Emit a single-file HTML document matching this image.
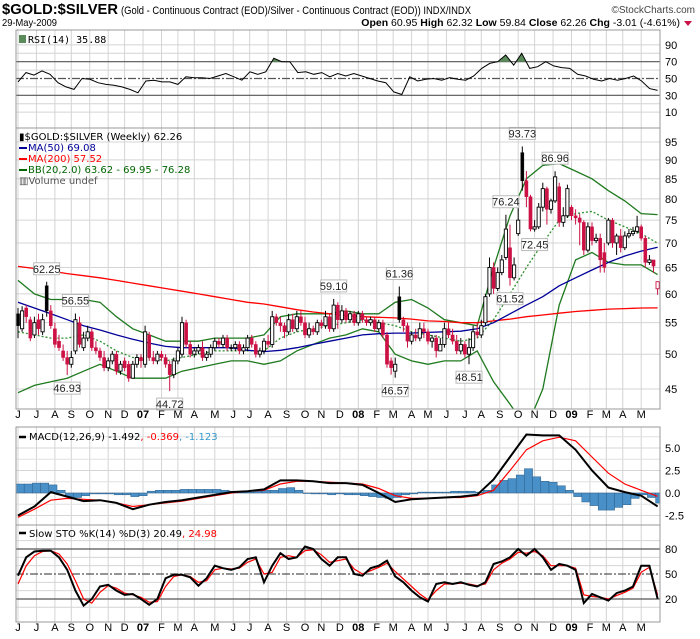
<!DOCTYPE html>
<html><head><meta charset="utf-8"><style>
html,body{margin:0;padding:0;background:#fff;}
svg{display:block;font-family:"Liberation Sans",sans-serif;}
</style></head><body>
<svg id="chart" width="700" height="639" viewBox="0 0 700 639" xmlns="http://www.w3.org/2000/svg">
<defs>
<clipPath id="mainClip"><rect x="16" y="128" width="644" height="281"/></clipPath>
<clipPath id="rsiClip"><rect x="16" y="30" width="644" height="31.7"/></clipPath>
<clipPath id="macdClip"><rect x="16" y="427" width="644" height="98"/></clipPath>
<clipPath id="stoClip"><rect x="16" y="525" width="644" height="97"/></clipPath>
</defs>
<g>
<text x="2" y="14" font-size="15" font-weight="bold" textLength="116" lengthAdjust="spacingAndGlyphs">$GOLD:$SILVER</text>
<text x="121" y="14" font-size="11" textLength="350" lengthAdjust="spacingAndGlyphs">(Gold - Continuous Contract (EOD)/Silver - Continuous Contract (EOD)) INDX/INDX</text>
<text x="695" y="13" font-size="10" text-anchor="end" fill="#444">©StockCharts.com</text>
<text x="2" y="26" font-size="10" textLength="55" lengthAdjust="spacingAndGlyphs">29-May-2009</text>
<text x="680" y="26" font-size="10.5" text-anchor="end"><tspan font-weight="bold">Open</tspan> 60.95 <tspan font-weight="bold">High</tspan> 62.32 <tspan font-weight="bold">Low</tspan> 59.84 <tspan font-weight="bold">Close</tspan> 62.26 <tspan font-weight="bold">Chg</tspan> -3.01 (-4.61%)</text>
<path d="M684 21 L692 21 L688 26 Z" fill="#cc1144"/>
</g>
<g id="grid"></g>
<g id="plots"></g>
<g id="frames">
<rect x="16" y="30" width="644" height="98" fill="none" stroke="#999"/>
<rect x="16" y="128" width="644" height="281" fill="none" stroke="#999"/>
<rect x="16" y="427" width="644" height="98" fill="none" stroke="#999"/>
<rect x="16" y="525" width="644" height="97" fill="none" stroke="#999"/>
</g>
<g>
<rect x="19" y="35" width="7" height="8" fill="#5b8a5b"/>
<text x="28" y="43" font-size="10" font-family="DejaVu Sans Mono, monospace">RSI(14) 35.88</text>
<text x="19" y="140" font-size="10" font-family="DejaVu Sans, sans-serif">▮$GOLD:$SILVER (Weekly) 62.26</text>
<line x1="19" y1="148" x2="27" y2="148" stroke="#000099" stroke-width="2"/>
<text x="28" y="151" font-size="10" fill="#000099" font-family="DejaVu Sans, sans-serif">MA(50) 69.08</text>
<line x1="19" y1="159" x2="27" y2="159" stroke="#ff0000" stroke-width="2"/>
<text x="28" y="162" font-size="10" fill="#ff0000" font-family="DejaVu Sans, sans-serif">MA(200) 57.52</text>
<line x1="19" y1="170" x2="27" y2="170" stroke="#006600" stroke-width="2"/>
<text x="28" y="173" font-size="10" fill="#006600" font-family="DejaVu Sans, sans-serif">BB(20,2.0) 63.62 - 69.95 - 76.28</text>
<text x="19" y="184" font-size="10" fill="#555" font-family="DejaVu Sans, sans-serif">▥Volume undef</text>
<line x1="19" y1="437" x2="26" y2="437" stroke="#000" stroke-width="2.5"/>
<text x="29" y="440" font-size="10" font-family="DejaVu Sans, sans-serif">MACD(12,26,9) -1.492<tspan fill="#ff0000">, -0.369</tspan><tspan fill="#3399cc">, -1.123</tspan></text>
<line x1="19" y1="533" x2="26" y2="533" stroke="#000" stroke-width="2.5"/>
<text x="29" y="537" font-size="10" font-family="DejaVu Sans, sans-serif">Slow STO %K(14) %D(3) 20.49<tspan fill="#ff0000">, 24.98</tspan></text>
</g>
</svg>
<script>
// ===== DATA =====
const closes = [54.5,57.0,56.0,52.5,55.0,54.0,55.5,57.0,54.5,51.5,51.0,49.5,48.5,49.5,55.5,51.5,52.5,53.5,51.0,50.5,49.5,48.0,49.0,50.0,47.5,48.5,48.0,46.5,48.5,49.5,49.0,53.5,49.5,49.0,50.0,49.5,48.5,47.0,49.0,50.5,55.0,51.5,50.0,50.5,51.0,49.5,50.0,51.0,52.0,51.5,52.5,51.0,51.0,51.5,50.5,51.0,52.5,51.5,50.0,50.5,52.0,51.5,56.0,55.0,54.5,53.5,55.5,54.0,56.0,55.0,53.0,54.0,53.5,55.0,54.5,56.0,54.0,58.0,55.5,57.0,55.5,56.5,55.0,56.5,55.5,55.0,55.5,54.0,55.0,53.0,48.5,48.0,48.5,55.5,54.5,52.0,53.0,52.5,54.0,53.5,52.0,52.5,50.5,51.5,54.0,53.0,52.0,50.5,51.5,50.0,51.0,53.5,53.0,54.5,59.5,65.0,61.0,64.0,66.5,73.0,63.0,65.5,75.0,84.5,80.5,73.0,73.5,78.0,82.5,77.5,79.5,85.5,74.5,76.0,82.5,76.0,75.5,74.5,68.5,73.5,70.5,71.0,66.5,65.0,75.0,70.0,71.5,69.0,71.5,72.0,72.5,73.5,71.0,66.0,66.5,65.27,62.26];
const opens = [56.5,54.0,57.5,55.5,53.0,55.5,53.5,61.5,57.0,54.0,52.0,50.5,49.5,48.5,50.5,55.0,51.0,52.5,53.5,51.0,50.5,49.5,48.0,49.0,50.0,47.5,49.0,48.5,46.5,48.5,49.5,48.5,53.0,49.5,49.0,50.0,49.5,48.5,47.0,49.0,50.0,55.0,51.5,50.0,50.5,51.0,49.5,50.0,51.0,52.0,51.5,52.5,51.0,51.0,51.5,50.5,51.0,52.5,51.5,50.0,50.5,52.0,51.5,56.0,55.0,54.5,53.5,55.5,54.0,56.0,55.0,53.0,54.0,53.5,55.0,54.5,56.0,54.0,58.0,55.5,57.0,55.5,56.5,55.0,56.5,55.5,55.0,55.5,54.0,55.0,53.0,49.0,47.5,59.5,55.5,54.5,52.0,53.0,52.5,54.0,53.5,52.0,52.5,50.5,51.5,54.0,53.0,52.0,50.5,51.5,50.0,51.0,53.5,53.0,55.0,60.0,65.0,61.0,64.0,67.0,69.0,63.0,72.0,92.0,84.5,80.5,73.0,73.5,78.0,82.5,77.5,79.5,83.0,74.5,76.0,78.0,76.0,75.5,74.5,68.5,73.5,70.5,71.0,68.0,70.0,75.0,70.0,71.5,69.0,71.5,72.0,72.5,73.5,71.0,66.0,66.5,60.95];
const highs = [57.5,57.8,58,56,56,56.5,56.5,62.25,58,55,53,51.5,50.5,50.5,56.55,56,53.5,54.5,54,52,51,50.5,49.5,50.5,50.5,49,49.5,49,49,50,50,54.5,53.5,50.5,50.5,50.5,50,49,49.5,51,56,55.5,52,51,51.5,52,50.5,51.5,52.5,52.5,53,53,51.5,52,52,51.5,53,53,52,51,52.5,53,57,56.5,56,55,56.5,56.5,57,57,56,55,54.5,55.5,55.5,57,56.5,59.1,58.5,58,57.5,57,57,57,57,56,56,56,55.5,55.5,53.5,49.5,49.5,61.36,56,55,53.5,54,55,55,54,53,53,52.5,55,55,54,53,52.5,52,52.5,54.5,55,55.5,60,67,66,65,67.5,76.24,74,67,78,93.73,87,81,75,79,84,83,80,86.96,84,78,83.5,78.5,77.5,76.5,75,74.5,74.5,72,72,70,75.5,75.5,72,73,72.5,73,73.5,76,74,71.5,67.5,66,62.32];
const lows = [52.5,53.5,55,52,52.5,53,53,56,54,51,50.5,49,46.93,48,50,51,50.5,52,50.5,50,49,47.5,47.5,48.5,47,47,47.5,46,46.5,48,48,48,49,48.5,48.5,49,48,44.72,46.5,48.5,49.5,51,49.5,49.5,50,49,49,49.5,50.5,51,51,50.5,50.5,50.5,50,50,50.5,51,49.5,49.5,50,51,51,54.5,53.5,52.5,53,53.5,53.5,54.5,52.5,52.5,53,53,54,54,53.5,53.5,54,55,55,55,54.5,54.5,55,54.5,54.5,53.5,53.5,52.5,48,47,46.57,55,53.5,51,51.5,52,52,52.5,51.5,51,49.5,50.5,51,52.5,51.5,50,50,49.5,48.51,50.5,52.5,52.5,54.5,59.5,60,60.5,63.5,66.5,61.52,62.5,71.5,82,78,72.5,72.45,73,77,74,76.5,79,73.5,73.5,75.5,75,74,69.5,67.5,68,69.5,70,64,64,69.5,69,67.5,68,68.5,71,71.5,72,70.5,65,65.5,64,59.84];
const ma200 = [65.2,64.8,64.3,63.8,63.4,63.0,62.5,62.0,61.5,61.0,60.5,60.0,59.5,59.0,58.5,58.2,57.7,57.2,56.8,56.5,56.2,56.0,55.9,55.8,55.6,55.3,55.2,55.0,55.0,55.3,55.6,56.0,56.3,56.6,56.9,57.1,57.3,57.4,57.5,57.52];
const ma50 = [58.5,57.5,56.5,55.5,54.5,53.8,53.0,52.3,51.7,51.2,51.0,51.0,51.0,51.0,50.6,50.4,50.6,51.0,51.5,52.0,52.5,53.0,53.2,53.3,53.3,53.4,53.5,53.6,54.0,55.0,56.5,58.0,59.5,61.5,63.0,64.5,66.0,67.3,68.3,69.08];
const bbUpper = [62.5,60.0,59.0,59.0,59.0,58.5,56.0,54.0,53.0,52.0,52.0,52.0,52.5,52.5,52.5,53.0,56.0,56.5,56.5,56.5,57.0,56.5,56.5,58.5,59.0,57.5,55.5,55.0,54.5,65.0,76.0,85.0,88.5,89.0,87.0,85.0,82.0,79.5,76.5,76.28];
const bbMid = [53.5,53.0,52.5,52.5,53.0,52.0,50.5,49.5,49.5,49.0,49.5,50.0,50.5,50.5,50.5,50.5,52.5,53.5,54.0,54.5,55.0,55.5,55.0,54.5,53.5,53.0,52.5,52.0,52.5,55.5,60.0,65.0,70.0,75.0,76.5,77.0,75.0,73.5,72.0,69.95];
const bbLower = [44.5,45.5,46.0,46.5,47.5,48.5,47.5,46.5,46.5,46.5,47.5,48.0,48.5,49.0,49.0,48.5,49.0,50.5,51.5,52.5,53.0,54.0,53.5,50.0,49.0,48.5,49.0,49.0,50.5,46.0,43.0,40.0,45.0,58.0,66.5,68.0,66.0,65.5,65.5,63.62];
const rsi = [46,57,54,59,55,45,40,37,50,49,45,43,42,40,37,33,47,48,46,46,43,52,51,51,50,53,56,52,48,58,55,58,74,70,70,57,58,55,57,52,56,53,56,53,50,47,45,34,31,52,47,49,50,48,51,49,48,53,62,68,70,78,66,80,62,64,70,65,63,62,55,53,49,47,50,48,50,53,47,38,35.88];
const macdLine = [-2.5,-1.5,0.1,-0.4,-0.9,-0.8,-1.1,-1.8,-1.3,-1.0,-0.8,-0.5,-0.2,0.1,0.2,0.4,1.4,1.4,1.3,1.1,1.1,0.9,0.0,-1.0,-0.7,-0.6,-0.5,-0.4,-0.2,1.5,4.0,6.5,6.4,6.4,4.8,2.5,0.6,0.1,-0.3,-1.49];
const macdSignal = [-2.7,-1.8,-0.8,-0.6,-0.7,-0.8,-1.1,-1.5,-1.3,-1.1,-0.9,-0.6,-0.3,0.0,0.2,0.3,1.0,1.3,1.3,1.2,1.1,1.0,0.5,-0.3,-0.6,-0.6,-0.5,-0.5,-0.3,0.3,2.5,4.8,5.8,6.2,5.8,4.0,2.2,1.0,0.3,-0.37];
const macdHist = [1.0,1.0,1.1,1.1,0.9,0.3,-0.4,-0.5,-0.3,-0.1,-0.1,-0.1,-0.2,-0.2,-0.4,-0.3,0.2,0.3,0.3,0.3,0.4,0.4,0.4,0.4,0.4,0.3,0.2,0.2,0.1,0.2,0.3,0.3,0.5,0.6,0.3,0.0,-0.1,-0.1,-0.2,-0.1,-0.2,-0.2,-0.3,-0.4,-0.5,-0.6,-0.5,-0.2,-0.1,0.1,0.1,0.1,0.1,0.2,0.2,0.2,0.1,0.3,0.9,1.4,1.6,2.0,2.7,1.8,1.3,1.2,0.8,0.3,-0.4,-1.0,-1.4,-1.9,-1.9,-1.6,-1.3,-0.6,-0.2,-0.5,-1.12];
const stoK = [48,70,77,78,78,70,55,30,12,20,35,37,30,25,26,20,13,20,45,49,49,46,36,45,60,57,55,58,68,70,40,60,75,68,70,83,80,68,60,70,70,50,48,57,60,66,47,40,30,22,17,38,40,38,40,37,35,40,62,65,70,80,72,80,70,55,62,60,55,15,26,22,18,27,30,35,60,60,20.49];
const stoD = [38,60,72,77,78,74,62,42,20,15,28,36,33,27,25,22,16,17,35,47,49,47,40,42,55,57,56,57,64,68,50,52,70,72,70,78,79,73,64,66,68,56,50,54,58,63,53,44,35,26,19,30,38,38,39,38,36,38,55,63,68,76,75,77,72,60,60,60,57,25,23,22,20,24,28,33,52,58,24.98];
const monthLabels = ["J","J","A","S","O","N","D","07","F","M","A","M","J","J","A","S","O","N","D","08","F","M","A","M","J","J","A","S","O","N","D","09","F","M","A","M"];
const monthWeeks = [0,4.5,9,13,17.5,22,26,30.5,35,39,43,48,52.5,56.5,61,65.5,70,74,78.5,83,87.5,91.5,96,100,104.5,109,113,117.5,122,126,130.5,135,139.5,143.5,147.5,152];
const priceTicks = [45,50,55,60,65,70,75,80,85,90,95];
const rsiTicks = [90,70,50,30,10];
const macdTicks = [5.0,2.5,0.0,-2.5];
const stoTicks = [80,50,20];
const callWeeks = [7,14,12,37,77,93,92,110,119,120,123,126,131];
const callValues = [62.25,56.55,46.93,44.72,59.10,61.36,46.57,48.51,76.24,61.52,93.73,72.45,86.96];
const callHigh = [1,1,0,0,1,1,0,0,1,0,1,0,1];

// ===== SCALES =====
const LASTW = 156;
const X = w => 18 + w*4.1;
const Ym = v => 142 + Math.log(95/v)*330.6;
const Yr = v => 61.7 + (70-v)*0.84;
const Yd = v => 493 - v*9;
const Ys = v => 549 + (80-v)*0.833;
const wk = (k,n) => k*LASTW/(n-1);

const NS = "http://www.w3.org/2000/svg";
const grid = document.getElementById('grid');
const plots = document.getElementById('plots');
function mk(tag, attrs, parent){
  const e = document.createElementNS(NS, tag);
  for (const k in attrs) e.setAttribute(k, attrs[k]);
  parent.appendChild(e);
  return e;
}
function linePath(arr, ys){
  return arr.map((v,k)=>(k?'L':'M')+X(wk(k,arr.length)).toFixed(1)+' '+ys(v).toFixed(1)).join(' ');
}

// ===== GRID =====
const panels = [[30,128],[128,409],[427,525],[525,622]];
monthWeeks.forEach((w,i)=>{
  panels.forEach(p=>{
    const l = mk('line',{x1:X(w),x2:X(w),y1:p[0],y2:p[1],stroke:'#d4d4d4','stroke-width':1},grid);
    
    
  });
  const yr = monthLabels[i].length>1;
  [418,631].forEach(yy=>{
    const t = mk('text',{x:X(w),y:yy,'font-size':11,'text-anchor':'middle','font-weight':yr?'bold':'normal'},grid);
    t.textContent = monthLabels[i];
    
    
  });
});
priceTicks.forEach(v=>{
  const l = mk('line',{x1:16,x2:660,y1:Ym(v),y2:Ym(v),stroke:'#d4d4d4'},grid);
  
  
  const t = mk('text',{x:665,y:Ym(v)+4,'font-size':11},grid);
  t.textContent = v;
  
  
});
[10,20,40,60,80,90].forEach(v=>{
  const l = mk('line',{x1:16,x2:660,y1:Yr(v),y2:Yr(v),stroke:'#d4d4d4'},grid);
  
  
});
rsiTicks.forEach(v=>{
  const t = mk('text',{x:665,y:Yr(v)+4,'font-size':11},grid);
  t.textContent = v;
  
  
});
[-1.25,1.25,3.75,6.25].forEach(v=>{
  const l = mk('line',{x1:16,x2:660,y1:Yd(v),y2:Yd(v),stroke:'#e0e0e0'},grid);
  
  
});
macdTicks.forEach(v=>{
  const l = mk('line',{x1:16,x2:660,y1:Yd(v),y2:Yd(v),stroke:'#d4d4d4'},grid);
  
  
  const t = mk('text',{x:665,y:Yd(v)+4,'font-size':11},grid);
  t.textContent = v.toFixed(1);
  
  
});
[10,30,40,60,70,90].forEach(v=>{
  const l = mk('line',{x1:16,x2:660,y1:Ys(v),y2:Ys(v),stroke:'#d4d4d4'},grid);
  
  
});
stoTicks.forEach(v=>{
  const t = mk('text',{x:665,y:Ys(v)+4,'font-size':11},grid);
  t.textContent = v;
  
  
});
[[Yr(70),'rsi-overbought-line',''],[Yr(30),'rsi-oversold-line',''],[Yr(50),'rsi-midline','8,2,2,2'],
 [Ys(80),'sto-overbought-line',''],[Ys(20),'sto-oversold-line',''],[Ys(50),'sto-midline','8,2,2,2']].forEach(r=>{
  const l = mk('line',{x1:16,x2:660,y1:r[0],y2:r[0],stroke:'#555','stroke-width':1.2},grid);
  if (r[2]) l.setAttribute('stroke-dasharray', r[2]);
  
  
});

// ===== RSI =====
const rsiG = mk('g',{},plots);


const rsiFill = mk('path',{d:linePath(rsi,Yr)+' L'+X(LASTW)+' '+Yr(0)+' L'+X(0)+' '+Yr(0)+' Z',fill:'#5b8a5b','clip-path':'url(#rsiClip)'},rsiG);


const rsiLine = mk('path',{d:linePath(rsi,Yr),fill:'none',stroke:'#000','stroke-width':1},rsiG);



// ===== PRICE PANEL =====
const mainG = mk('g',{'clip-path':'url(#mainClip)'},plots);


[[bbUpper,'#1f7a1f','','bb-upper-line'],[bbLower,'#1f7a1f','','bb-lower-line'],[bbMid,'#2f8f2f','2,2','bb-middle-line'],
 [ma200,'#ff0000','','ma200-line'],[ma50,'#000099','','ma50-line']].forEach(s=>{
  const p = mk('path',{d:linePath(s[0],Ym),fill:'none',stroke:s[1],'stroke-width':1.3},mainG);
  if (s[2]) p.setAttribute('stroke-dasharray', s[2]);
  
  
});
closes.forEach((c,i)=>{
  const o = opens[i];
  const col = (i>0 && c<closes[i-1]) ? '#cc1144' : '#000';
  const g = mk('g',{},mainG);
  
  
  const x = X(i);
  mk('line',{x1:x,x2:x,y1:Ym(highs[i]),y2:Ym(lows[i]),stroke:col,'stroke-width':1},g);
  const top = Ym(Math.max(o,c)), bot = Ym(Math.min(o,c));
  const hollow = c>o;
  mk('rect',{x:x-1.6,y:top,width:3.2,height:Math.max(1,bot-top),fill:hollow?'#fff':col,stroke:col,'stroke-width':hollow?0.9:0.4},g);
});
callWeeks.forEach((w,i)=>{
  const v = callValues[i];
  const g = mk('g',{},plots);
  
  
  const x = X(w);
  const by = callHigh[i] ? Ym(v)-19 : Ym(v)+7;
  mk('rect',{x:x-13,y:by,width:26,height:12,fill:'#fff',stroke:'#bbb','stroke-width':1},g);
  const t = mk('text',{x:x,y:by+10,'font-size':11,'text-anchor':'middle',fill:'#222'},g);
  t.textContent = v.toFixed(2);
});

// ===== MACD =====
const macdG = mk('g',{'clip-path':'url(#macdClip)'},plots);


macdHist.forEach((v,k)=>{
  const w0 = wk(k,macdHist.length);
  const y0 = Yd(0), y1 = Yd(v);
  const r = mk('rect',{x:X(w0)-2,y:Math.min(y0,y1),width:8.2,height:Math.max(0.5,Math.abs(y1-y0)),fill:'#4a90c8',stroke:'#2a5f8a','stroke-width':0.5},macdG);
  
  
});
const sigP = mk('path',{d:linePath(macdSignal,Yd),fill:'none',stroke:'#ff0000','stroke-width':1.2},macdG);


const macdP = mk('path',{d:linePath(macdLine,Yd),fill:'none',stroke:'#000','stroke-width':2},macdG);



// ===== STO =====
const stoG = mk('g',{'clip-path':'url(#stoClip)'},plots);


const dP = mk('path',{d:linePath(stoD,Ys),fill:'none',stroke:'#ff0000','stroke-width':1.2},stoG);


const kP = mk('path',{d:linePath(stoK,Ys),fill:'none',stroke:'#000','stroke-width':2},stoG);


</script>
</body></html>
